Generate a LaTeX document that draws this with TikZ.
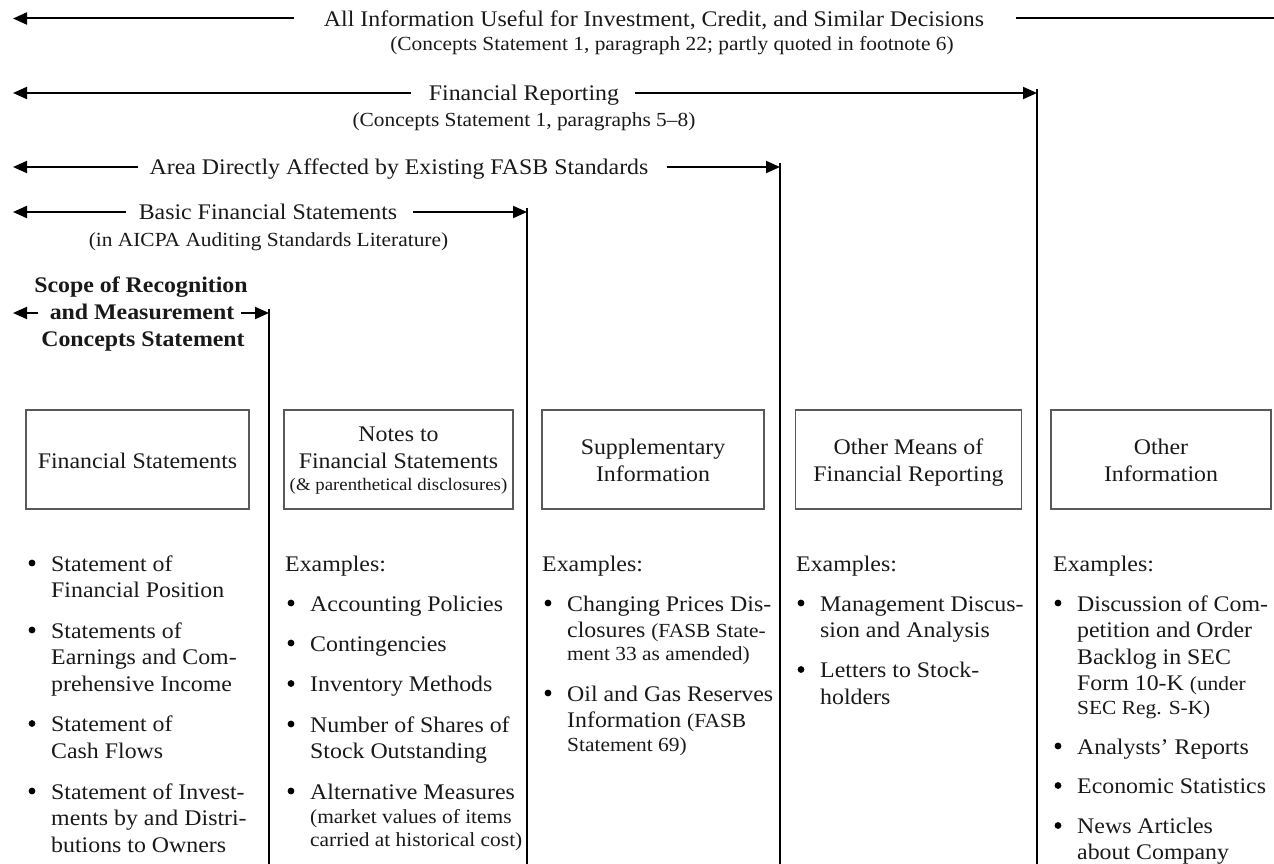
\documentclass[tikz,border=0pt]{standalone}
\usepackage{fontspec}
\setmainfont{Liberation Serif}[FakeStretch=1.07]
\usetikzlibrary{arrows.meta}
\newcommand{\frg}{\fontsize{22.3}{26.5}\selectfont}
\newcommand{\fsm}{\fontsize{20}{23}\selectfont}
\newcommand{\fxs}{\fontsize{17.6}{20}\selectfont}
\begin{document}
\begin{tikzpicture}[x=1pt,y=-1pt,
  lbl/.style={inner sep=0pt, font=\frg, anchor=base, text=black!90},
  sub/.style={inner sep=0pt, font=\fsm, anchor=base, text=black!90},
  bld/.style={inner sep=0pt, font=\frg\bfseries, anchor=base, text=black!90},
  lw/.style={inner sep=0pt, font=\frg, anchor=base west, text=black!90},
  lws/.style={inner sep=0pt, font=\fsm, anchor=base west, text=black!90},
  arr/.style={line width=2pt, -{Triangle[length=14pt,width=12pt]}},
  ln/.style={line width=2pt},
  vln/.style={line width=2pt},
  bx/.style={draw=black!65, line width=1.2pt, minimum height=99pt, inner sep=0pt},
  dot/.style={fill=black}
]
\useasboundingbox (0,0) rectangle (1274,864);

% ---- Title 1
\node[lbl] (t1) at (654,26.5) {All Information Useful for Investment, Credit, and Similar Decisions};
\coordinate (t1L) at (13,18.5);
\coordinate (t1R) at (1274,18.5);
\draw[arr] ([xshift=-30pt]t1.base west |- t1L) -- (t1L);
\draw[ln] ([xshift=32pt]t1.base east |- t1R) -- (t1R);
\node[sub] (s1) at (672,51) {(Concepts Statement 1, paragraph 22; partly quoted in footnote 6)};

% ---- Title 2
\node[lbl] (t2) at (524,100.5) {Financial Reporting};
\coordinate (t2L) at (13,93);
\coordinate (c2) at (1037,93);
\coordinate (e2) at (1037,864);
\draw[arr] ([xshift=-18pt]t2.base west |- t2L) -- (t2L);
\draw[arr] ([xshift=16pt]t2.base east |- c2) -- (c2);
\draw[vln] ([yshift=4pt]c2) -- (e2);
\node[sub] (s2) at (524,127) {(Concepts Statement 1, paragraphs 5--8)};

% ---- Title 3
\node[lbl] (t3) at (399,174.5) {Area Directly Affected by Existing FASB Standards};
\coordinate (t3L) at (13,167);
\coordinate (c3) at (780,167);
\coordinate (e3) at (780,864);
\draw[arr] ([xshift=-11pt]t3.base west |- t3L) -- (t3L);
\draw[arr] ([xshift=18pt]t3.base east |- c3) -- (c3);
\draw[vln] ([yshift=4pt]c3) -- (e3);

% ---- Title 4
\node[lbl] (t4) at (268,219.5) {Basic Financial Statements};
\coordinate (t4L) at (13,212);
\coordinate (c4) at (527,212);
\coordinate (e4) at (527,864);
\draw[arr] ([xshift=-13pt]t4.base west |- t4L) -- (t4L);
\draw[arr] ([xshift=16pt]t4.base east |- c4) -- (c4);
\draw[vln] ([yshift=4pt]c4) -- (e4);
\node[sub] (s4) at (268.5,246) {(in AICPA Auditing Standards Literature)};

% ---- Scope
\node[bld] (sc1) at (141,292) {Scope of Recognition};
\node[bld] (sc2) at (142,319.5) {and Measurement};
\node[bld] (sc3) at (143,346) {Concepts Statement};
\coordinate (scL) at (13,313);
\coordinate (c5) at (269,313);
\coordinate (e5) at (269,864);
\draw[arr] ([xshift=-12pt]sc2.base west |- scL) -- (scL);
\draw[arr] ([xshift=7pt]sc2.base east |- c5) -- (c5);
\draw[vln] ([yshift=4pt]c5) -- (e5);

% ---- Boxes
\node[bx, minimum width=223pt] (b1) at (137.5,459.5) {};
\node[bx, minimum width=229pt] (b2) at (398.5,459.5) {};
\node[bx, minimum width=222pt] (b3) at (653,459.5) {};
\node[bx, minimum width=226pt] (b4) at (908.5,459.5) {};
\node[bx, minimum width=220pt] (b5) at (1161,459.5) {};

\node[lbl] (b1t) at (b1.center |- 0,468) {Financial Statements};
\node[lbl] (b2t1) at (b2.center |- 0,441) {Notes to};
\node[lbl] (b2t2) at (b2.center |- 0,468) {Financial Statements};
\node[lbl, font=\fxs] (b2t3) at (b2.center |- 0,490) {(\& parenthetical disclosures)};
\node[lbl] (b3t1) at (b3.center |- 0,454) {Supplementary};
\node[lbl] (b3t2) at (b3.center |- 0,481) {Information};
\node[lbl] (b4t1) at (b4.center |- 0,454) {Other Means of};
\node[lbl] (b4t2) at (b4.center |- 0,481) {Financial Reporting};
\node[lbl] (b5t1) at (b5.center |- 0,454) {Other};
\node[lbl] (b5t2) at (b5.center |- 0,481) {Information};

% ---- Column 1
\node[lw] (c1a) at (51,571) {Statement of};
\node[lw] (c1b) at (51,597.5) {Financial Position};
\node[lw] (c1c) at (51,638) {Statements of};
\node[lw] (c1d) at (51,664.5) {Earnings and Com-};
\node[lw] (c1e) at (51,691) {prehensive Income};
\node[lw] (c1f) at (51,731.5) {Statement of};
\node[lw] (c1g) at (51,758) {Cash Flows};
\node[lw] (c1h) at (51,799) {Statement of Invest-};
\node[lw] (c1i) at (51,825.5) {ments by and Distri-};
\node[lw] (c1j) at (51,852) {butions to Owners};
\foreach \yy in {571,638,731.5,799} \fill[dot] (32,\yy-8) circle[radius=3.4pt];

% ---- Column 2
\node[lw] (c2a) at (285,571) {Examples:};
\node[lw] (c2b) at (310,611) {Accounting Policies};
\node[lw] (c2c) at (310,651) {Contingencies};
\node[lw] (c2d) at (310,691.5) {Inventory Methods};
\node[lw] (c2e) at (310,732) {Number of Shares of};
\node[lw] (c2f) at (310,758.5) {Stock Outstanding};
\node[lw] (c2g) at (310,799) {Alternative Measures};
\node[lws] (c2h) at (310,823) {(market values of items};
\node[lws] (c2i) at (310,846.5) {carried at historical cost)};
\foreach \yy in {611,651,691.5,732,799} \fill[dot] (291,\yy-8) circle[radius=3.4pt];

% ---- Column 3
\node[lw] (c3a) at (542,571) {Examples:};
\node[lw] (c3b) at (567,611) {Changing Prices Dis-};
\node[lw] (c3c) at (567,637.5) {closures {\fsm (FASB State-}};
\node[lws] (c3d) at (567,660) {ment 33 as amended)};
\node[lw] (c3e) at (567,701) {Oil and Gas Reserves};
\node[lw] (c3f) at (567,727.5) {Information {\fsm (FASB}};
\node[lws] (c3g) at (567,751) {Statement 69)};
\foreach \yy in {611,701} \fill[dot] (548,\yy-8) circle[radius=3.4pt];

% ---- Column 4
\node[lw] (c4a) at (796,571) {Examples:};
\node[lw] (c4b) at (820,611) {Management Discus-};
\node[lw] (c4c) at (820,637.5) {sion and Analysis};
\node[lw] (c4d) at (820,677.5) {Letters to Stock-};
\node[lw] (c4e) at (820,704) {holders};
\foreach \yy in {611,677.5} \fill[dot] (801,\yy-8) circle[radius=3.4pt];

% ---- Column 5
\node[lw] (c5a) at (1053,571) {Examples:};
\node[lw] (c5b) at (1077,611) {Discussion of Com-};
\node[lw] (c5c) at (1077,637.5) {petition and Order};
\node[lw] (c5d) at (1077,664) {Backlog in SEC};
\node[lw] (c5e) at (1077,690.5) {Form 10-K {\fsm (under}};
\node[lws] (c5f) at (1077,714.5) {SEC Reg. S-K)};
\node[lw] (c5g) at (1077,754) {Analysts’ Reports};
\node[lw] (c5h) at (1077,793.5) {Economic Statistics};
\node[lw] (c5i) at (1077,833.5) {News Articles};
\node[lw] (c5j) at (1077,859) {about Company};
\foreach \yy in {611,754,793.5,833.5} \fill[dot] (1058,\yy-8) circle[radius=3.4pt];

\end{tikzpicture}
\end{document}
